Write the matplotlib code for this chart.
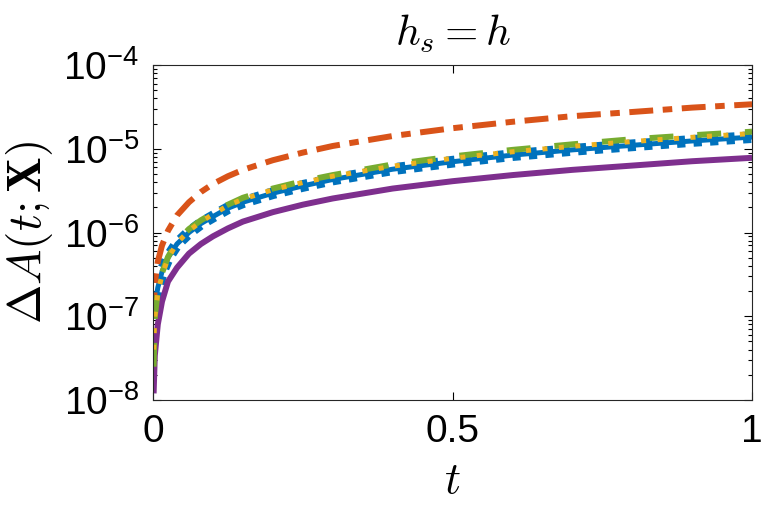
import matplotlib
matplotlib.use('Agg')
import matplotlib.pyplot as plt
from matplotlib.ticker import LogLocator, NullFormatter

plt.rcParams['font.family'] = ['Liberation Sans', 'DejaVu Sans']
plt.rcParams['mathtext.fontset'] = 'cm'

# curves (log scale values)
t = [0.001, 0.003, 0.008, 0.015, 0.025, 0.04, 0.06, 0.08, 0.1, 0.125, 0.15, 0.2,
     0.25, 0.3, 0.4, 0.5, 0.6, 0.7, 0.8, 0.9, 1.0]
t_blue = [0.0] + t[1:]

blue = [1.0e-7, 1.3e-7, 2.2e-7, 3.4e-7, 5.0e-7, 7.3e-7, 1.0e-6, 1.28e-6, 1.55e-6, 1.95e-6,
        2.3e-6, 2.95e-6, 3.6e-6, 4.3e-6, 5.7e-6, 7.0e-6, 8.4e-6, 9.7e-6, 1.1e-5, 1.24e-5, 1.38e-5]
orange = [1.0e-7, 2.5e-7, 4.5e-7, 7.0e-7, 1.05e-6, 1.6e-6, 2.3e-6, 3.05e-6, 3.8e-6, 4.7e-6,
          5.6e-6, 7.3e-6, 9.0e-6, 1.08e-5, 1.42e-5, 1.76e-5, 2.1e-5, 2.45e-5, 2.75e-5, 3.1e-5, 3.4e-5]
yellow = [4.0e-8, 1.0e-7, 1.9e-7, 3.1e-7, 4.9e-7, 7.5e-7, 1.05e-6, 1.35e-6, 1.65e-6, 2.1e-6,
          2.5e-6, 3.25e-6, 3.95e-6, 4.7e-6, 6.2e-6, 7.7e-6, 9.2e-6, 1.07e-5, 1.22e-5, 1.37e-5, 1.52e-5]
purple = [1.2e-8, 3.4e-8, 8.0e-8, 1.5e-7, 2.6e-7, 3.8e-7, 5.6e-7, 7.3e-7, 9.0e-7, 1.12e-6,
          1.35e-6, 1.75e-6, 2.15e-6, 2.55e-6, 3.35e-6, 4.1e-6, 4.85e-6, 5.6e-6, 6.3e-6, 7.1e-6, 7.8e-6]
green = [2.5e-8, 1.0e-7, 2.0e-7, 3.3e-7, 5.1e-7, 7.8e-7, 1.1e-6, 1.4e-6, 1.7e-6, 2.15e-6,
         2.6e-6, 3.35e-6, 4.1e-6, 4.85e-6, 6.5e-6, 8.1e-6, 9.7e-6, 1.13e-5, 1.3e-5, 1.45e-5, 1.6e-5]

xticks = [0, 0.5, 1]
xticklabels = ['0', '0.5', '1']
yticks = [1e-8, 1e-7, 1e-6, 1e-5, 1e-4]

fig = plt.figure(figsize=(7.67, 5.21), dpi=100)
ax = fig.add_axes([0.1995, 0.2322, 0.781, 0.643])

# blue: thick solid core plus blocky dotted overlay
ax.plot(t_blue, blue, color='#0072BD', lw=3.6, solid_capstyle='butt')
ax.plot(t_blue, blue, color='#0072BD', lw=8.5, dashes=(0.7, 0.7), dash_capstyle='butt')
ax.plot(t, orange, color='#D95319', lw=4.3, dashes=(4, 1.6, 1.6, 1.6), dash_capstyle='butt')
ax.plot(t, purple, color='#7E2F8E', lw=4.3, solid_capstyle='butt')
ax.plot(t, green, color='#77AC30', lw=4.3, dashes=(4, 4), dash_capstyle='butt')
ax.plot(t, yellow, color='#EDB120', lw=3.6, dashes=(1, 2.3), dash_capstyle='butt')

ax.set_yscale('log')
ax.set_ylim(1e-8, 1e-4)
ax.set_xlim(0, 1)
ax.set_xticks(xticks, labels=xticklabels)
ax.set_yticks(yticks)
ax.yaxis.set_minor_locator(LogLocator(base=10, subs=range(2, 10), numticks=20))
ax.yaxis.set_minor_formatter(NullFormatter())

ax.tick_params(which='both', direction='in', top=True, right=True, labelsize=28, width=0.8)
ax.tick_params(which='major', length=6, pad=10)
ax.tick_params(which='minor', length=3)
for s in ax.spines.values():
    s.set_linewidth(0.8)
    s.set_color('#262626')

ax.set_title('$h_s = h$', fontsize=31, pad=14)
ax.set_xlabel('$t$', fontsize=32, labelpad=8)
ax.set_ylabel(r'$\Delta A(t;\mathbf{X})$', fontsize=34, labelpad=6)

fig.savefig('out.png', dpi=100)
